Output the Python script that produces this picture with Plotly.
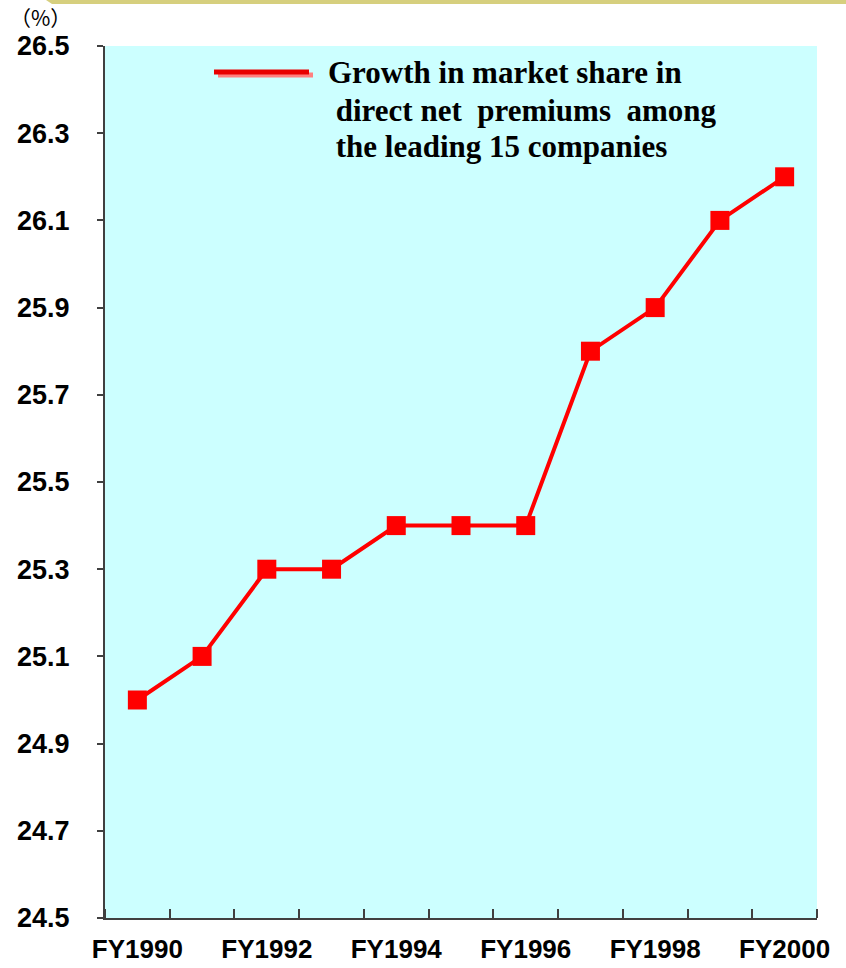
import plotly.graph_objects as go

years = ["FY1990", "FY1991", "FY1992", "FY1993", "FY1994", "FY1995",
         "FY1996", "FY1997", "FY1998", "FY1999", "FY2000"]
share = [25.0, 25.1, 25.3, 25.3, 25.4, 25.4, 25.4, 25.8, 25.9, 26.1, 26.2]
y_ticks = [24.5, 24.7, 24.9, 25.1, 25.3, 25.5, 25.7, 25.9, 26.1, 26.3, 26.5]
legend_lines = ["Growth in market share in",
                " direct net  premiums  among",
                " the leading 15 companies"]

xs = list(range(len(years)))
label_idx = xs[::2]

W, H = 846, 968
ML, MR, MT, MB = 105, 29, 46, 50
PW, PH = W - ML - MR, H - MT - MB


def px(x):
    return (x - ML) / PW


def py(y):
    return (H - MB - y) / PH


fig = go.Figure()
fig.add_trace(go.Scatter(
    x=xs, y=share, mode="lines+markers",
    line=dict(color="#FF0000", width=4),
    marker=dict(symbol="square", size=19, color="#FF0000"),
    showlegend=False, cliponaxis=False,
))

axis_font = dict(family="Liberation Sans, Arial", size=27, color="#000000", weight="bold")
x_font = dict(family="Liberation Sans, Arial", size=26, color="#000000", weight="bold")

fig.update_layout(
    width=W, height=H,
    margin=dict(l=ML, r=MR, t=MT, b=MB),
    paper_bgcolor="#FFFFFF",
    plot_bgcolor="#CCFFFF",
    xaxis=dict(
        range=[-0.5, len(years) - 0.5], automargin=False,
        tickmode="array", tickvals=label_idx, ticktext=[years[i] for i in label_idx],
        ticks="", showgrid=False, zeroline=False,
        showline=True, linecolor="#404040", linewidth=2,
        tickfont=x_font, ticklabelstandoff=7,
        minor=dict(tick0=-0.5, dtick=1, ticks="inside", ticklen=9, tickwidth=2,
                   tickcolor="#404040", showgrid=False),
    ),
    yaxis=dict(
        range=[24.5, 26.5], automargin=False, tickmode="array", tickvals=y_ticks,
        ticktext=[f"{v:.1f}" for v in y_ticks],
        ticks="outside", ticklen=6, tickwidth=1.5, tickcolor="#404040",
        showgrid=False, zeroline=False,
        showline=True, linecolor="#404040", linewidth=2,
        tickfont=axis_font, ticklabelstandoff=22,
    ),
)

# decorative band at top
fig.add_shape(type="path", xref="paper", yref="paper",
              path=f"M {px(46)},{py(0)} L {px(52)},{py(4)} L {px(846)},{py(4)} L {px(846)},{py(0)} Z",
              fillcolor="#D6CF7E", line=dict(width=0), layer="above")

# legend line sample with shadow
fig.add_shape(type="line", xref="paper", yref="paper",
              x0=px(218), x1=px(313), y0=py(75), y1=py(75),
              line=dict(color="#FF8080", width=5))
fig.add_shape(type="line", xref="paper", yref="paper",
              x0=px(214), x1=px(309), y0=py(72), y1=py(72),
              line=dict(color="#E80000", width=5))

for i, (line, ycen) in enumerate(zip(legend_lines, [73, 110, 146])):
    fig.add_annotation(xref="paper", yref="paper", x=px(326), y=py(ycen),
                       xanchor="left", yanchor="middle", align="left",
                       text="<b>" + line.replace(" ", "&nbsp;") + "</b>", showarrow=False,
                       font=dict(family="Liberation Serif, Times New Roman", size=31, color="#000000"))

fig.add_annotation(xref="paper", yref="paper", x=px(8), y=py(17),
                   xanchor="left", yanchor="middle", text="（%）", showarrow=False,
                   font=dict(family="Noto Sans CJK JP", size=21, color="#000000"))

fig.write_html("out.html")
